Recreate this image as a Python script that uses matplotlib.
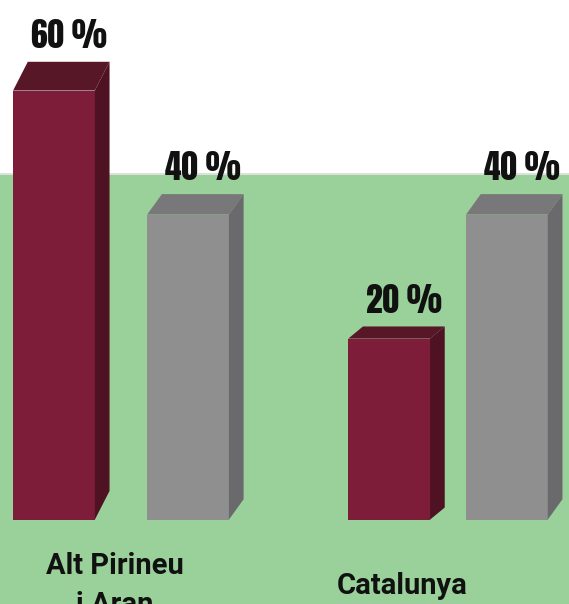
import matplotlib
matplotlib.use('Agg')
import matplotlib.pyplot as plt
from matplotlib.patches import Polygon, Rectangle
from matplotlib.lines import Line2D

# data
categories = ['Alt Pirineu\ni Aran', 'Catalunya']
maroon_vals = [60, 20]
gray_vals = [40, 40]

# look
W, H, DPI = 569, 604, 100
GREEN = '#9ad09a'
MAROON = ('#7e1d39', '#581727', '#4e1222')   # front, top, side
GRAY = ('#8f8f8f', '#78787a', '#6a6a6c')
base = -9.2     # the graphic's bars start a bit below zero
bar_w = 0.25
offsets = [0.205, 0.18]
dx = 0.045
depth = 0.067
label_shift = [-0.02, -0.14]
band_top = 1 - 175 / H

fig = plt.figure(figsize=(W / DPI, H / DPI), dpi=DPI)
fig.patch.set_facecolor('white')
# green band behind the bars, with a faint grey edge on top
fig.patches.append(Rectangle((0, 0), 1, band_top, transform=fig.transFigure,
                             facecolor=GREEN, edgecolor='none', zorder=-5))
fig.lines.append(Line2D([0, 1], [band_top + 0.002] * 2, transform=fig.transFigure,
                        color='#d6dcd6', lw=1.2, zorder=-4))
ax = fig.add_axes([0, 0, 1, 1])
ax.set_facecolor('none')
ax.set_xlim(-0.37, 1.37)
ax.set_ylim(-22.8, 74.6)
ax.axis('off')


def draw_bar(x, v, colors):
    front, top, side = colors
    ax.bar(x, v - base, bottom=base, width=bar_w, color=front, zorder=3)
    x0, x1 = x - bar_w / 2, x + bar_w / 2
    dy = depth * (v - base)
    ax.add_patch(Polygon([(x0, v), (x1, v), (x1 + dx, v + dy), (x0 + dx, v + dy)],
                         closed=True, facecolor=top, edgecolor='none', zorder=3))
    ax.add_patch(Polygon([(x1, base), (x1, v), (x1 + dx, v + dy), (x1 + dx, base + dy)],
                         closed=True, facecolor=side, edgecolor='none', zorder=3))
    ax.annotate(f'{v} %', (x + dx, v + dy), xytext=(0, 10), textcoords='offset points',
                ha='center', va='baseline', fontsize=24,
                family=['Anton', 'DejaVu Sans'], color='#111111')


for i, cat in enumerate(categories):
    draw_bar(i - offsets[i], maroon_vals[i], MAROON)
    draw_bar(i + offsets[i], gray_vals[i], GRAY)
    ax.text(i + label_shift[i], 0.03, cat, transform=ax.get_xaxis_transform(),
            ha='center', va='center', multialignment='center', fontsize=21,
            fontweight='bold', family='Roboto', color='#111111', linespacing=1.5)

fig.savefig('out.png', dpi=DPI)
